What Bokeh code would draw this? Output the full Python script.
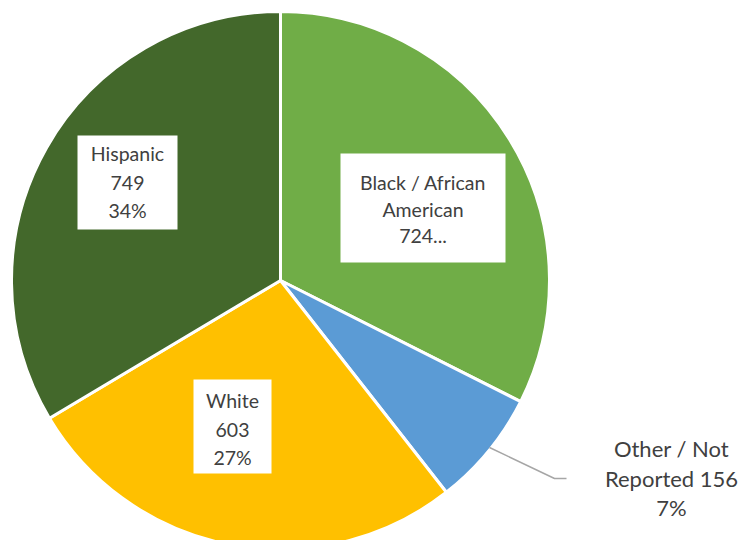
import math
from bokeh.plotting import figure
from bokeh.models import Range1d
from bokeh.core.properties import value
from bokeh.embed import file_html
from bokeh.resources import INLINE

# data
categories = ["Black / African American", "Other / Not Reported", "White", "Hispanic"]
counts = [724, 156, 603, 749]
colors = ["#70AD47", "#5B9BD5", "#FFC000", "#43682B"]
label_lines = [
    ["Black / African", "American", "724..."],
    ["Other / Not", "Reported 156", "7%"],
    ["White", "603", "27%"],
    ["Hispanic", "749", "34%"],
]

W, H = 741, 540
p = figure(width=W, height=H, output_backend="svg", toolbar_location=None,
           x_range=Range1d(0, W), y_range=Range1d(0, H),
           min_border=0)
p.axis.visible = False
p.grid.visible = False
p.outline_line_color = None
p.background_fill_color = "white"

def Y(sy):
    return 540 - sy

cx, cy, r = 280, Y(280), 269
total = sum(counts)
start = math.pi / 2
starts, ends = [], []
for c in counts:
    a = 2 * math.pi * c / total
    starts.append(start)
    ends.append(start - a)
    start -= a

p.wedge(x=cx, y=cy, radius=r, start_angle=starts, end_angle=ends, direction="clock",
        fill_color=colors, line_color="white", line_width=3)

# leader line for Other
p.line(x=[489, 554, 566], y=[Y(447), Y(478), Y(478)], line_color="#A6A6A6", line_width=1.5)

# label boxes (screen coords: left, top, right, bottom)
boxes = {0: (340, 153, 505, 262), 2: (193, 379, 271, 473), 3: (77, 135, 177, 229)}
line_y = {0: [182, 209, 235], 1: [448, 478, 507], 2: [400, 429, 457], 3: [153, 182, 210]}
line_x = {0: 422.5, 1: 671, 2: 232, 3: 127}
sizes = {0: "19.5px", 1: "22px", 2: "19.5px", 3: "19.5px"}

for i, b in boxes.items():
    l, t, rr, bt = b
    p.quad(left=l, right=rr, top=Y(t), bottom=Y(bt), fill_color="white", line_color=None)

for i in range(4):
    xs = [line_x[i]] * 3
    ys = [Y(v) for v in line_y[i]]
    p.text(x=xs, y=ys, text=label_lines[i], text_align="center", text_baseline="middle",
           text_font=value("Lato"), text_font_size=sizes[i], text_color="#404040")

open("out.html", "w").write(file_html(p, INLINE))
